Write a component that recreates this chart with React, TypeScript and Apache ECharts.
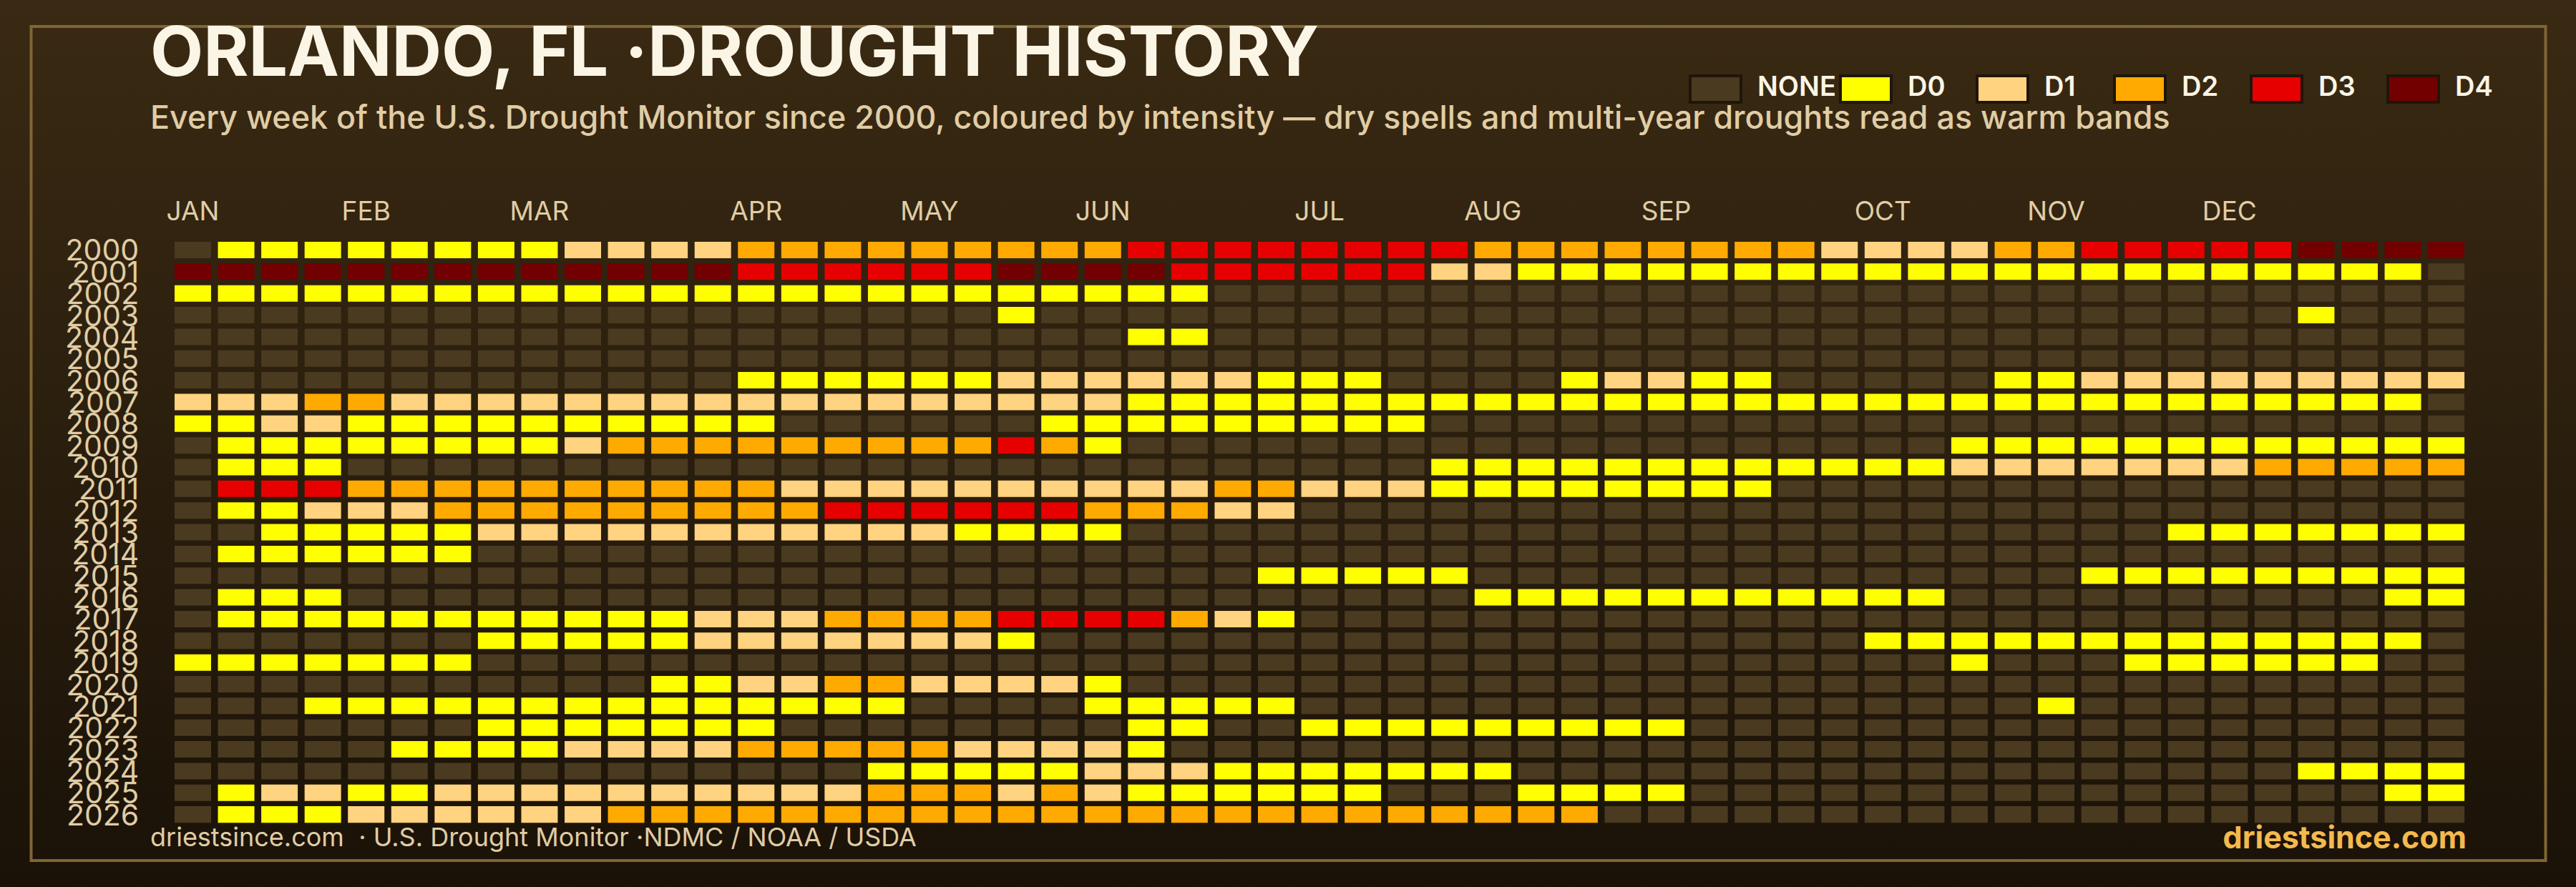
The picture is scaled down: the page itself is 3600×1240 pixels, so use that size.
import { useEffect, useRef } from 'react'
import * as echarts from 'echarts'

const FONT = 'Inter'

const years = [
  '2000', '2001', '2002', '2003', '2004', '2005', '2006', '2007', '2008',
  '2009', '2010', '2011', '2012', '2013', '2014', '2015', '2016', '2017',
  '2018', '2019', '2020', '2021', '2022', '2023', '2024', '2025', '2026',
]

const months = ['JAN', 'FEB', 'MAR', 'APR', 'MAY', 'JUN', 'JUL', 'AUG', 'SEP', 'OCT', 'NOV', 'DEC']
const monthWeeks = [0, 4, 8, 13, 17, 21, 26, 30, 34, 39, 43, 47]

const levelNames = ['NONE', 'D0', 'D1', 'D2', 'D3', 'D4']
const levelColors = ['#4a3a20', '#ffff00', '#ffd37f', '#ffaa00', '#e60000', '#730000']

// one string per year, one char per week, spaced every 10 weeks. '.' = no drought
const weeklyLevels = [
  '.000000001 1112222222 2233333333 2222222211 1122333334 444',
  '4444444444 4443333334 4443333331 1000000000 0000000000 00.',
  '0000000000 0000000000 0000...... .......... .......... ...',
  '.......... .........0 .......... .......... .........0 ...',
  '.......... .......... ..00...... .......... .......... ...',
  '.......... .......... .......... .......... .......... ...',
  '.......... ...0000001 11111000.. ..01100... ..00111111 111',
  '1112211111 1111111111 1100000000 0000000000 0000000000 00.',
  '0011000000 0000...... 000000000. .......... .......... ...',
  '.000000001 2222222223 20........ .......... .000000000 000',
  '.000...... .......... .........0 0000000000 0111111122 222',
  '.333222222 2222111111 1111221110 0000000... .......... ...',
  '.001112222 2222233333 322211.... .......... .......... ...',
  '..00000111 1111111100 00........ .......... ......0000 000',
  '.000000... .......... .......... .......... .......... ...',
  '.......... .......... .....00000 .......... ....000000 000',
  '.000...... .......... .......... 0000000000 0......... .00',
  '.000000000 0011122223 333210.... .......... .......... ...',
  '.......000 0011111110 .......... .........0 0000000000 00.',
  '0000000... .......... .......... .......... .0...00000 0..',
  '.......... .001122111 10........ .......... .......... ...',
  '...0000000 0000000... .00000.... .......... ...0...... ...',
  '.......000 0000...... ..00..0000 00000..... .......... ...',
  '.....00001 1112222211 110....... .......... .......... ...',
  '.......... ......0000 0111000000 0......... .........0 000',
  '.011001111 1111112221 21000000.. .0000..... .......... .00',
  '.000111111 2222222222 2222222222 222....... .......... ...',
]

const cells: number[][] = []
weeklyLevels.forEach((row, y) => {
  row.replace(/ /g, '').split('').forEach((ch, x) => {
    cells.push([x, y, ch === '.' ? 0 : Number(ch) + 1])
  })
})

const weekLabels = weeklyLevels[0].replace(/ /g, '').split('').map((_, i) => {
  const m = monthWeeks.indexOf(i)
  return m >= 0 ? months[m] : ''
})

const legendX = [2360, 2570, 2761, 2953, 3144, 3335]

function label(x: number, y: number, text: string, size: number, weight: number, fill: string, align = 'left') {
  return {
    type: 'text',
    z: 5,
    style: {
      x,
      y,
      text,
      fill,
      font: `${weight} ${size}px ${FONT}`,
      textAlign: align,
      textVerticalAlign: 'middle',
    },
  }
}

export default function App() {
  const chartRef = useRef<HTMLDivElement>(null)

  useEffect(() => {
    if (!chartRef.current) return
    const chart = echarts.init(chartRef.current, null, { renderer: 'svg' })

    const legendItems: any[] = []
    levelNames.forEach((name, i) => {
      legendItems.push({
        type: 'rect',
        z: 4,
        shape: { x: legendX[i] + 2, y: 106, width: 71, height: 37 },
        style: { fill: levelColors[i], stroke: '#20150a', lineWidth: 4 },
      })
      legendItems.push(label(legendX[i] + 96, 120, name, 38, 600, '#fbf5e6'))
    })

    chart.setOption({
      animation: false,
      backgroundColor: 'transparent',
      grid: { left: 239.2, top: 334.3, width: 3209.7, height: 819.5 },
      xAxis: {
        type: 'category',
        position: 'top',
        data: weekLabels,
        axisLine: { show: false },
        axisTick: { show: false },
        axisLabel: {
          interval: 0,
          margin: 21,
          color: '#e0cda5',
          fontFamily: FONT,
          fontSize: 37,
          fontWeight: 400,
        },
      },
      yAxis: {
        type: 'category',
        inverse: true,
        data: years,
        axisLine: { show: false },
        axisTick: { show: false },
        axisLabel: {
          interval: 0,
          margin: 45,
          color: '#e0cda5',
          fontFamily: FONT,
          fontSize: 41,
          fontWeight: 400,
          lineHeight: 23,
          padding: [0, 0, 9, 0],
        },
      },
      series: [
        {
          type: 'custom',
          data: cells,
          encode: { x: 0, y: 1 },
          renderItem: (_params: any, api: any) => {
            const center = api.coord([api.value(0), api.value(1)])
            const band = api.size([1, 1])
            const w = band[0] * 0.842
            const h = band[1] * 0.758
            return {
              type: 'rect',
              shape: { x: center[0] - w / 2, y: center[1] - h / 2, width: w, height: h },
              style: { fill: levelColors[api.value(2)] },
            }
          },
        },
      ],
      graphic: [
        {
          type: 'rect',
          z: 1,
          shape: { x: 43.5, y: 37, width: 3514, height: 1166 },
          style: { fill: 'none', stroke: '#806534', lineWidth: 4 },
        },
        label(210, 71, 'ORLANDO, FL ·DROUGHT HISTORY', 96.4, 700, '#fbf5e6'),
        label(210, 164, 'Every week of the U.S. Drought Monitor since 2000, coloured by intensity — dry spells and multi-year droughts read as warm bands', 44.8, 500, '#e0cda5'),
        ...legendItems,
        label(210, 1170, 'driestsince.com  · U.S. Drought Monitor ·NDMC / NOAA / USDA', 36, 400, '#e0cda5'),
        label(3447, 1170, 'driestsince.com', 43, 700, '#f4b94f', 'right'),
      ],
    })

    return () => {
      chart.dispose()
    }
  }, [])

  return (
    <div
      ref={chartRef}
      style={{
        position: 'absolute',
        left: 0,
        top: 0,
        width: 3600,
        height: 1240,
        background: 'linear-gradient(180deg, #3a2a13 0%, #1a1208 100%)',
      }}
    />
  )
}
